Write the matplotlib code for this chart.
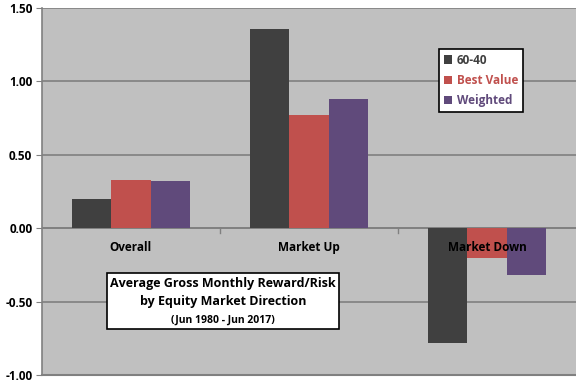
import numpy as np
import matplotlib.pyplot as plt

# data
categories = ['Overall', 'Market Up', 'Market Down']
series_names = ['60-40', 'Best Value', 'Weighted']
vals_6040 = [0.20, 1.36, -0.78]
vals_best = [0.33, 0.77, -0.20]
vals_weighted = [0.32, 0.88, -0.32]
yticks = [-1.0, -0.5, 0.0, 0.5, 1.0, 1.5]

colors = ['#404040', '#C0504D', '#604A7B']
FONT = 'Open Sans'

fig = plt.figure(figsize=(5.76, 3.84), dpi=100)
ax = fig.add_axes([42 / 576, 9 / 384, 1 - 42 / 576, 367 / 384])
ax.set_facecolor('#C0C0C0')


def ax_pos(px, py):
    # pixel position of the reference -> axes fraction
    return (px - 42) / 534, (375 - py) / 367


x = np.arange(len(categories))
w = 0.22
for i, (vals, name) in enumerate(zip([vals_6040, vals_best, vals_weighted], series_names)):
    ax.bar(x + (i - 1) * w, vals, width=w, color=colors[i], label=name, zorder=3)

ax.set_xlim(-0.5, len(categories) - 0.5)
ax.set_ylim(-1.0, 1.5)
ax.set_yticks(yticks)
ax.set_yticklabels([f'{v:.2f}' for v in yticks], fontsize=8.5, fontweight='bold', family=FONT)
ax.yaxis.grid(True, color='#808080', linewidth=1.2, zorder=1)
ax.tick_params(axis='y', direction='out', length=4, color='#808080', pad=3)

# category axis sits at zero
ax.set_xticks([])
ax.axhline(0, color='#808080', linewidth=1.2, zorder=2)
for b in [0.5, 1.5]:
    ax.plot([b, b], [0, -0.035], color='#808080', linewidth=1, zorder=2)
for xi, cat in zip(x, categories):
    ax.text(xi, -0.13, cat, ha='center', va='center', fontsize=8.5,
            fontweight='bold', family=FONT, zorder=4)

for side in ['top', 'right', 'bottom']:
    ax.spines[side].set_visible(False)
ax.spines['left'].set_color('#808080')
ax.spines['left'].set_linewidth(1.2)
ax.plot([-0.5, 2.5], [-1.0, -1.0], color='#808080', linewidth=1.5, clip_on=False, zorder=2)

leg = ax.legend(loc='upper left', bbox_to_anchor=ax_pos(439, 49),
                frameon=True, fancybox=False, edgecolor='black', framealpha=1,
                prop={'family': FONT, 'weight': 'bold', 'size': 8.5},
                handlelength=0.7, handleheight=0.7, handletextpad=0.4,
                labelspacing=0.6, borderpad=0.4, borderaxespad=0)
leg.get_frame().set_linewidth(1.2)
for txt, c in zip(leg.get_texts(), colors):
    txt.set_color(c)

# title box
cx = 223
for text, py, size in [('Average Gross Monthly Reward/Risk', 284, 9),
                       ('by Equity Market Direction', 302, 9),
                       ('(Jun 1980 - Jun 2017)', 320, 7.5)]:
    ax.text(*ax_pos(cx, py), text, transform=ax.transAxes, ha='center', va='center',
            fontsize=size, fontweight='bold', family=FONT, zorder=6)
x0, y0 = ax_pos(107, 329)
ax.add_patch(plt.Rectangle((x0, y0), (339 - 107) / 534, 56 / 367,
                           transform=ax.transAxes, facecolor='white', edgecolor='black',
                           linewidth=1.2, zorder=5))

fig.savefig('out.png', dpi=100)
